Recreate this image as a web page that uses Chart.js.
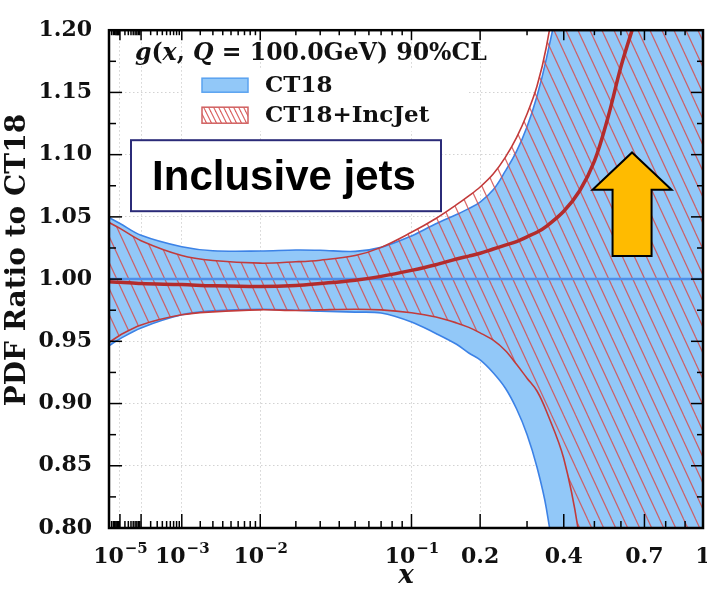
<!DOCTYPE html>
<html><head><meta charset="utf-8">
<script src="https://cdn.jsdelivr.net/npm/chart.js@4.4.0/dist/chart.umd.min.js"></script>
<style>html,body{margin:0;padding:0;background:#fff;}canvas{display:block;}</style>
</head><body>
<canvas id="c" width="707" height="592"></canvas>
<script>
// ---------------- data ----------------
const XS       = [1e-6, 1e-5, 1e-4, 1e-3, 3e-3, 0.01, 0.02, 0.03, 0.05, 0.07, 0.1, 0.13, 0.16, 0.18, 0.2, 0.225, 0.25, 0.275, 0.3, 0.325, 0.35, 0.4, 0.45, 0.5, 0.55, 0.6, 0.7, 0.8, 0.9, 1.0];
const CT18_UP  = [1.0495, 1.0447, 1.0352, 1.026, 1.0228, 1.0226, 1.0234, 1.0232, 1.0223, 1.0255, 1.0347, 1.0445, 1.0519, 1.0566, 1.0618, 1.0717, 1.0867, 1.1026, 1.1224, 1.147, 1.177, 1.245, 1.33, 1.44, 1.57, 1.72, 2.05, 2.45, 2.9, 3.4];
const CT18_LO  = [0.9465, 0.952, 0.9608, 0.9713, 0.9745, 0.9758, 0.975, 0.9742, 0.9735, 0.9727, 0.9655, 0.9563, 0.9476, 0.9406, 0.9351, 0.9248, 0.9125, 0.8958, 0.8752, 0.849, 0.8158, 0.72, 0.57, 0.42, 0.28, 0.14, -0.15, -0.45, -0.75, -1.05];
const JET_UP   = [1.0455, 1.0408, 1.0309, 1.019, 1.015, 1.0128, 1.0139, 1.0152, 1.0189, 1.0255, 1.0376, 1.0487, 1.0598, 1.0669, 1.074, 1.0844, 1.0978, 1.1137, 1.1327, 1.155, 1.1865, 1.27, 1.36, 1.48, 1.62, 1.78, 2.15, 2.6, 3.1, 3.7];
const JET_LO   = [0.949, 0.9549, 0.9632, 0.9713, 0.9737, 0.9753, 0.9748, 0.9753, 0.9758, 0.9753, 0.9729, 0.9695, 0.9648, 0.9612, 0.9568, 0.9509, 0.9426, 0.9315, 0.9204, 0.9101, 0.894, 0.8558, 0.7905, 0.68, 0.55, 0.40, 0.10, -0.2, -0.5, -0.8];
const JET_CEN  = [0.9978, 0.9975, 0.9964, 0.9956, 0.9946, 0.994, 0.9948, 0.9964, 0.9991, 1.0022, 1.007, 1.0115, 1.0162, 1.0185, 1.0208, 1.0242, 1.0273, 1.0301, 1.034, 1.0376, 1.0424, 1.0545, 1.071, 1.0947, 1.1303, 1.1707, 1.235, 1.33, 1.45, 1.6];
const CT18_CEN_X = [1e-6, 1.0];
const CT18_CEN_Y = [1.0, 1.0];

const X_MIN = 1e-6, X_MAX = 1.0;
const X_MAJOR = [1e-5, 1e-4, 1e-3, 1e-2, 0.1, 0.2, 0.4, 0.7];
const X_MINOR_LIN = [0.3, 0.5, 0.6, 0.8, 0.9];
const X_LABELS = [
  {v: 1e-5, base: '10', exp: '\u22125'},
  {v: 1e-3, base: '10', exp: '\u22123'},
  {v: 1e-2, base: '10', exp: '\u22122'},
  {v: 0.1,  base: '10', exp: '\u22121'},
  {v: 0.2,  base: '0.2'},
  {v: 0.4,  base: '0.4'},
  {v: 0.7,  base: '0.7'},
  {v: 1.0,  base: '1'}
];
const Y_MIN = 0.80, Y_MAX = 1.20, Y_STEP = 0.05;
const ARROW = {x: 0.646, yTip: 1.1018, yHead: 1.0717, yBase: 1.0186};

// ---------------- custom power-law x scale ----------------
const P = 0.285;
class PowerScale extends Chart.LinearScale {
  configure() {
    super.configure();
    this._t0 = Math.pow(this.min, P);
    this._t1 = Math.pow(this.max, P);
  }
  getPixelForValue(value) {
    if (value === null || value === undefined || isNaN(value)) return NaN;
    const t = Math.pow(Math.max(value, 0), P);
    return this.getPixelForDecimal((t - this._t0) / (this._t1 - this._t0));
  }
  getValueForPixel(pixel) {
    const d = this.getDecimalForPixel(pixel);
    return Math.pow(this._t0 + d * (this._t1 - this._t0), 1 / P);
  }
}
PowerScale.id = 'power';
PowerScale.defaults = Chart.LinearScale.defaults;
Chart.register(PowerScale);

// ---------------- patterns ----------------
const canvas = document.getElementById('c');
const mainCtx = canvas.getContext('2d');
function makeHatch(w, h, color, lw) {
  const c = document.createElement('canvas');
  c.width = w; c.height = h;
  const g = c.getContext('2d');
  g.strokeStyle = color; g.lineWidth = lw;
  for (let k = -1; k <= 1; k++) {
    g.beginPath(); g.moveTo(k * w - w, -h); g.lineTo(k * w + 2 * w, 2 * h); g.stroke();
  }
  return mainCtx.createPattern(c, 'repeat');
}
const HATCH = makeHatch(12, 26, 'rgba(214,78,78,0.85)', 1.2);
const HATCH_LEG = makeHatch(5, 10, 'rgba(214,78,78,0.9)', 1.1);

const BLUE_FILL = '#92c8f8', BLUE_LINE = '#3c82e6', RED_LINE = '#c23b3b', RED_CEN = '#b32c2c';
const SERIF = '"DejaVu Serif", serif';

function pts(xs, ys) { return xs.map((x, i) => ({x: x, y: ys[i]})); }

// ---------------- decorations plugin ----------------
function seg(ctx, x1, y1, x2, y2) { ctx.beginPath(); ctx.moveTo(x1, y1); ctx.lineTo(x2, y2); ctx.stroke(); }

const deco = {
  id: 'deco',
  beforeDraw(chart) {
    const ctx = chart.ctx;
    ctx.save(); ctx.fillStyle = '#fff'; ctx.fillRect(0, 0, chart.width, chart.height); ctx.restore();
  },
  afterDatasetsDraw(chart) {
    const ctx = chart.ctx, a = chart.chartArea, xs = chart.scales.x, ys = chart.scales.y;
    ctx.save();
    // ---- arrow (data-anchored) ----
    const ax = xs.getPixelForValue(ARROW.x);
    const yT = ys.getPixelForValue(ARROW.yTip), yH = ys.getPixelForValue(ARROW.yHead), yB = ys.getPixelForValue(ARROW.yBase);
    const hw = 39.5, sw = 19.5;
    ctx.beginPath();
    ctx.moveTo(ax, yT); ctx.lineTo(ax + hw, yH); ctx.lineTo(ax + sw, yH); ctx.lineTo(ax + sw, yB);
    ctx.lineTo(ax - sw, yB); ctx.lineTo(ax - sw, yH); ctx.lineTo(ax - hw, yH); ctx.closePath();
    ctx.fillStyle = '#ffbb00'; ctx.fill();
    ctx.lineWidth = 2; ctx.strokeStyle = '#000'; ctx.lineJoin = 'miter'; ctx.stroke();

    // ---- ticks ----
    ctx.strokeStyle = '#000'; ctx.lineWidth = 1.5;
    const xMinor = [];
    for (let e = -6; e <= -2; e++) for (let k = 2; k <= 9; k++) { const v = k * Math.pow(10, e); if (v > X_MIN && v < 0.1) xMinor.push(v); }
    X_MINOR_LIN.forEach(v => xMinor.push(v));
    X_MAJOR.forEach(v => { const p = xs.getPixelForValue(v); seg(ctx, p, a.bottom, p, a.bottom - 14); seg(ctx, p, a.top, p, a.top + 10); });
    xMinor.forEach(v => { const p = xs.getPixelForValue(v); seg(ctx, p, a.bottom, p, a.bottom - 7); seg(ctx, p, a.top, p, a.top + 5); });
    for (let v = Y_MIN; v <= Y_MAX + 1e-9; v += Y_STEP / 2) {
      const p = ys.getPixelForValue(v);
      const major = Math.abs(Math.round(v / Y_STEP) * Y_STEP - v) < 1e-6;
      seg(ctx, a.left, p, a.left + (major ? 13 : 7), p);
      seg(ctx, a.right, p, a.right - (major ? 12 : 6), p);
    }
    // ---- frame ----
    ctx.lineWidth = 2.5;
    ctx.strokeRect(a.left, a.top, a.right - a.left, a.bottom - a.top);

    // ---- x tick labels with superscripts ----
    ctx.fillStyle = '#111'; ctx.textBaseline = 'alphabetic'; ctx.textAlign = 'left';
    const baseY = a.bottom + 35;
    X_LABELS.forEach(L => {
      const p = xs.getPixelForValue(L.v);
      ctx.font = 'bold 22px ' + SERIF;
      const wb = ctx.measureText(L.base).width;
      let we = 0;
      if (L.exp) { ctx.font = 'bold 15px ' + SERIF; we = ctx.measureText(L.exp).width; }
      const x0 = p - (wb + we) / 2;
      ctx.font = 'bold 22px ' + SERIF; ctx.fillText(L.base, x0, baseY);
      if (L.exp) { ctx.font = 'bold 15px ' + SERIF; ctx.fillText(L.exp, x0 + wb + 1, baseY - 10); }
    });

    // ---- y axis title ----
    ctx.save();
    ctx.translate(18, (a.top + a.bottom) / 2 - 19);
    ctx.rotate(-Math.PI / 2);
    ctx.font = 'bold 28px ' + SERIF; ctx.textAlign = 'center'; ctx.textBaseline = 'middle';
    ctx.fillText('PDF Ratio to CT18', 0, 0);
    ctx.restore();

    // ---- legend background ----
    ctx.fillStyle = '#fff';
    ctx.fillRect(a.left + 74, a.top + 39, 285, 62);

    // ---- header g(x,Q=100.0GeV) 90%CL ----
    const segs = [{t: 'g', i: 1}, {t: '('}, {t: 'x', i: 1}, {t: ', '}, {t: 'Q', i: 1}, {t: ' = '}, {t: '100.0GeV) 90%CL'}];
    const fontOf = (s, size) => (s.i ? 'italic ' : '') + 'bold ' + size + 'px ' + SERIF;
    let tw = 0;
    segs.forEach(s => { ctx.font = fontOf(s, 23); tw += ctx.measureText(s.t).width; });
    const hs = 23 * 352 / tw;
    let hx = a.left + 26;
    ctx.fillStyle = '#111'; ctx.textAlign = 'left'; ctx.textBaseline = 'alphabetic';
    segs.forEach(s => { ctx.font = fontOf(s, hs); ctx.fillText(s.t, hx, a.top + 30); hx += ctx.measureText(s.t).width; });

    // ---- legend entries ----
    const lx = a.left + 93, lw = 46;
    ctx.fillStyle = BLUE_FILL; ctx.fillRect(lx, a.top + 48, lw, 14);
    ctx.strokeStyle = '#5aa2f0'; ctx.lineWidth = 1.5; ctx.strokeRect(lx, a.top + 48, lw, 14);
    ctx.fillStyle = '#fff'; ctx.fillRect(lx, a.top + 77, lw, 16);
    ctx.fillStyle = HATCH_LEG; ctx.fillRect(lx, a.top + 77, lw, 16);
    ctx.strokeStyle = '#d06060'; ctx.strokeRect(lx, a.top + 77, lw, 16);
    ctx.fillStyle = '#111'; ctx.font = 'bold 23px ' + SERIF;
    ctx.fillText('CT18', a.left + 156, a.top + 62);
    ctx.fillText('CT18+IncJet', a.left + 156, a.top + 92);

    // ---- Inclusive jets box ----
    const bx = a.left + 22, by = a.top + 110, bw = 310, bh = 71;
    ctx.fillStyle = '#fff'; ctx.fillRect(bx, by, bw, bh);
    ctx.strokeStyle = '#2b2b78'; ctx.lineWidth = 2; ctx.strokeRect(bx, by, bw, bh);
    ctx.fillStyle = '#000'; ctx.font = 'bold 42px "Liberation Sans", Arial, sans-serif'; ctx.textAlign = 'center';
    ctx.fillText('Inclusive jets', bx + bw / 2 - 2, by + 50);
    ctx.restore();
  }
};

// ---------------- chart ----------------
const lineBase = {pointRadius: 0, pointHoverRadius: 0, tension: 0.35, fill: false};
new Chart(mainCtx, {
  type: 'line',
  data: {
    datasets: [
      Object.assign({}, lineBase, {label: 'CT18 upper', data: pts(XS, CT18_UP), borderColor: BLUE_LINE, borderWidth: 1.6, fill: {target: 1}, backgroundColor: BLUE_FILL, order: 6}),
      Object.assign({}, lineBase, {label: 'CT18 lower', data: pts(XS, CT18_LO), borderColor: BLUE_LINE, borderWidth: 1.6, order: 5}),
      Object.assign({}, lineBase, {label: 'CT18+IncJet upper', data: pts(XS, JET_UP), borderColor: RED_LINE, borderWidth: 1.6, fill: {target: 3}, backgroundColor: HATCH, order: 4}),
      Object.assign({}, lineBase, {label: 'CT18+IncJet lower', data: pts(XS, JET_LO), borderColor: RED_LINE, borderWidth: 1.6, order: 3}),
      Object.assign({}, lineBase, {label: 'CT18+IncJet central', data: pts(XS, JET_CEN), borderColor: RED_CEN, borderWidth: 3.5, order: 1}),
      Object.assign({}, lineBase, {label: 'CT18 central', data: pts(CT18_CEN_X, CT18_CEN_Y), borderColor: '#4f8fe8', borderWidth: 2.5, order: 2})
    ]
  },
  options: {
    responsive: false,
    animation: false,
    devicePixelRatio: 1,
    layout: {padding: {top: 23, right: 4, left: 0, bottom: 0}},
    plugins: {legend: {display: false}, tooltip: {enabled: false}},
    scales: {
      x: {
        type: 'power', min: X_MIN, max: X_MAX, bounds: 'data',
        afterBuildTicks: s => { s.ticks = X_MAJOR.map(v => ({value: v})); },
        afterFit: s => { s.height = 64; },
        ticks: {display: false},
        grid: {color: '#d2d2d2', lineWidth: 1, drawTicks: false},
        border: {display: false, dash: [1.5, 2.5]},
        title: {display: true, text: 'x', color: '#111', font: {family: SERIF, style: 'italic', weight: 'bold', size: 26}, padding: {top: 0, bottom: 0}}
      },
      y: {
        type: 'linear', min: Y_MIN, max: Y_MAX,
        afterFit: s => { s.width = 109; },
        ticks: {stepSize: Y_STEP, padding: 17, color: '#111', font: {family: SERIF, weight: 'bold', size: 22}, callback: v => Number(v).toFixed(2)},
        grid: {color: '#d2d2d2', lineWidth: 1, drawTicks: false},
        border: {display: false, dash: [1.5, 2.5]}
      }
    }
  },
  plugins: [deco]
});
</script>
</body></html>
